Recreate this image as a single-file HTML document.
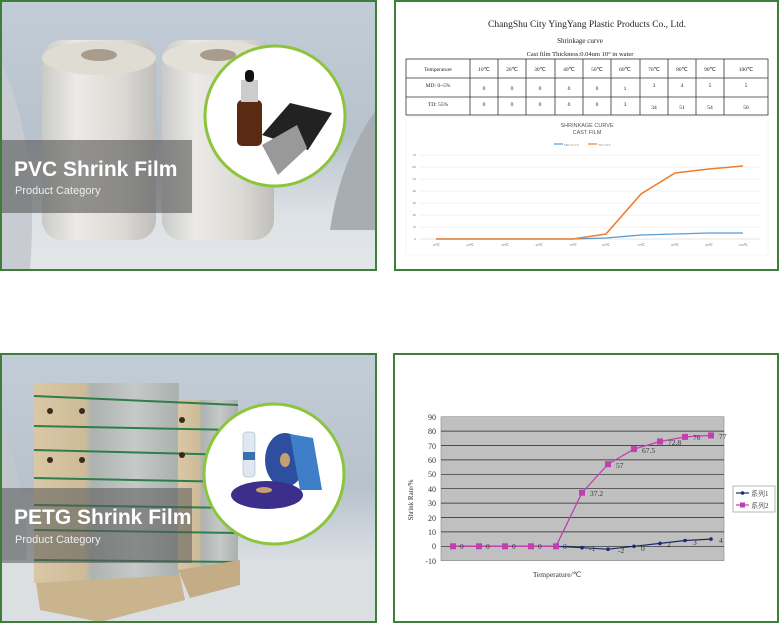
<!DOCTYPE html>
<html><head><meta charset="utf-8"><style>
html,body{margin:0;padding:0;background:#fff;width:780px;height:625px;overflow:hidden}
svg{display:block}
</style></head><body>
<svg width="780" height="625" viewBox="0 0 780 625" xmlns="http://www.w3.org/2000/svg" font-family="Liberation Serif, serif">
<defs>
<linearGradient id="sky" x1="0" y1="0" x2="0" y2="1">
<stop offset="0" stop-color="#c3cdd8"/><stop offset="0.5" stop-color="#b8c2cc"/><stop offset="0.8" stop-color="#dde2e6"/><stop offset="1" stop-color="#e3e6e9"/></linearGradient>
<linearGradient id="roll" x1="0" y1="0" x2="1" y2="0">
<stop offset="0" stop-color="#c9cac8"/><stop offset="0.3" stop-color="#eceae6"/><stop offset="0.7" stop-color="#dcdad5"/><stop offset="1" stop-color="#bfbebb"/></linearGradient>
<linearGradient id="box" x1="0" y1="0" x2="1" y2="0">
<stop offset="0" stop-color="#d9c7a6"/><stop offset="0.35" stop-color="#cdbb98"/><stop offset="0.4" stop-color="#aeb3b2"/><stop offset="0.7" stop-color="#c5c9c8"/><stop offset="1" stop-color="#a9b0ae"/></linearGradient>
</defs>

<!-- Top-left panel -->
<rect x="1" y="1" width="375" height="269" fill="url(#sky)"/>
<path d="M1 60 Q40 150 30 270 L1 270Z" fill="#c8ccd2"/>
<path d="M376 110 Q340 160 330 230 L376 230Z" fill="#a8adb2"/>
<rect x="42" y="40" width="114" height="200" rx="20" fill="url(#roll)"/>
<ellipse cx="99" cy="58" rx="57" ry="17" fill="#dfdcd3"/>
<ellipse cx="99" cy="55" rx="18" ry="6" fill="#a89c8c"/>
<rect x="162" y="40" width="112" height="200" rx="20" fill="url(#roll)"/>
<ellipse cx="218" cy="58" rx="56" ry="17" fill="#e3e0d8"/>
<ellipse cx="218" cy="55" rx="18" ry="6" fill="#a89c8c"/>
<rect x="2" y="140" width="190" height="73" fill="#555" fill-opacity="0.6"/>
<text x="14" y="176" font-family="Liberation Sans, sans-serif" font-weight="bold" font-size="21" fill="#fff">PVC Shrink Film</text>
<text x="15" y="194" font-family="Liberation Sans, sans-serif" font-size="11" fill="#eee">Product Category</text>
<circle cx="275" cy="116" r="70" fill="#fff" stroke="#8cc43c" stroke-width="3"/>
<rect x="237" y="100" width="25" height="46" rx="5" fill="#5a2a12"/>
<rect x="241" y="80" width="17" height="22" fill="#ccc"/>
<rect x="245" y="70" width="9" height="12" rx="4" fill="#111"/>
<polygon points="262,135 290,103 332,113 308,150" fill="#222"/>
<polygon points="262,145 297,125 307,148 278,175" fill="#999"/>
<rect x="1" y="1" width="375" height="269" fill="none" stroke="#3f7d3a" stroke-width="2"/>

<!-- Bottom-left panel -->
<rect x="1" y="354" width="375" height="268" fill="url(#sky)"/>
<path d="M1 420 Q40 520 20 622 L1 622Z" fill="#c0c6cc"/>
<rect x="1" y="560" width="375" height="62" fill="#dcdfe2"/>
<rect x="34" y="383" width="145" height="200" fill="url(#box)"/>
<rect x="178" y="400" width="60" height="170" fill="url(#box)"/>
<g stroke="#2f7d4c" stroke-width="2"><line x1="34" y1="396" x2="238" y2="405"/><line x1="34" y1="426" x2="238" y2="430"/><line x1="34" y1="450" x2="238" y2="455"/><line x1="34" y1="478" x2="238" y2="482"/><line x1="34" y1="505" x2="238" y2="508"/><line x1="34" y1="530" x2="238" y2="533"/><line x1="34" y1="560" x2="238" y2="562"/></g>
<polygon points="36,583 180,575 185,600 100,622 40,610" fill="#c9b48e"/>
<polygon points="178,570 240,560 240,585 190,598" fill="#c4ad86"/>
<g fill="#3a2a1a"><circle cx="50" cy="411" r="3"/><circle cx="82" cy="411" r="3"/><circle cx="50" cy="460" r="3"/><circle cx="82" cy="460" r="3"/><circle cx="182" cy="420" r="3"/><circle cx="182" cy="455" r="3"/></g>
<rect x="2" y="488" width="190" height="75" fill="#555" fill-opacity="0.55"/>
<text x="14" y="524" font-family="Liberation Sans, sans-serif" font-weight="bold" font-size="21" fill="#fff">PETG Shrink Film</text>
<text x="15" y="543" font-family="Liberation Sans, sans-serif" font-size="11" fill="#eee">Product Category</text>
<circle cx="274" cy="474" r="70" fill="#fff" stroke="#8cc43c" stroke-width="3"/>
<rect x="243" y="432" width="12" height="45" rx="3" fill="#dfe8f0" stroke="#9ab" stroke-width="0.5"/>
<rect x="243" y="452" width="12" height="8" fill="#3a6fb0"/>
<ellipse cx="285" cy="460" rx="20" ry="27" fill="#2e4fa0"/>
<ellipse cx="285" cy="460" rx="5" ry="7" fill="#c8a070"/>
<polygon points="290,434 313,438 322,490 300,490" fill="#3f7ec8"/>
<ellipse cx="267" cy="495" rx="36" ry="14" fill="#3c2f8c"/>
<ellipse cx="264" cy="490" rx="8" ry="3" fill="#c8a070"/>
<rect x="1" y="354" width="375" height="268" fill="none" stroke="#3f7d3a" stroke-width="2"/>

<!-- Top-right panel -->
<rect x="395" y="1" width="383" height="269" fill="#fff" stroke="#3f7d3a" stroke-width="2"/>
<text x="587" y="27" font-size="9.5" text-anchor="middle" fill="#222">ChangShu City YingYang Plastic Products Co., Ltd.</text>
<text x="580" y="43" font-size="7" text-anchor="middle" fill="#222">Shrinkage curve</text>
<text x="580" y="56" font-size="6.5" text-anchor="middle" fill="#222">Cast film    Thickness:0.04um    10°  in water</text>
<g stroke="#333" stroke-width="0.8" fill="none">
<rect x="406" y="59" width="362" height="56"/>
<line x1="406" y1="78" x2="768" y2="78"/><line x1="406" y1="97" x2="768" y2="97"/>
<line x1="470" y1="59" x2="470" y2="115"/><line x1="498" y1="59" x2="498" y2="115"/><line x1="526" y1="59" x2="526" y2="115"/><line x1="555" y1="59" x2="555" y2="115"/><line x1="583" y1="59" x2="583" y2="115"/><line x1="611" y1="59" x2="611" y2="115"/><line x1="640" y1="59" x2="640" y2="115"/><line x1="668" y1="59" x2="668" y2="115"/><line x1="696" y1="59" x2="696" y2="115"/><line x1="724" y1="59" x2="724" y2="115"/>
</g>
<g font-size="5.5" fill="#222" text-anchor="middle">
<text x="438" y="71">Temperature</text><text x="484" y="71">10℃</text><text x="512" y="71">20℃</text><text x="540" y="71">30℃</text><text x="569" y="71">40℃</text><text x="597" y="71">50℃</text><text x="625" y="71">60℃</text><text x="654" y="71">70℃</text><text x="682" y="71">80℃</text><text x="710" y="71">90℃</text><text x="746" y="71">100℃</text>
<text x="438" y="87">MD:  0~5%</text><text x="484" y="90">0</text><text x="512" y="90">0</text><text x="540" y="90">0</text><text x="569" y="90">0</text><text x="597" y="90">0</text><text x="625" y="90">1</text><text x="654" y="87">3</text><text x="682" y="87">4</text><text x="710" y="87">5</text><text x="746" y="87">5</text>
<text x="438" y="106">TD:  55%</text><text x="484" y="106">0</text><text x="512" y="106">0</text><text x="540" y="106">0</text><text x="569" y="106">0</text><text x="597" y="106">0</text><text x="625" y="106">3</text><text x="654" y="109">34</text><text x="682" y="109">51</text><text x="710" y="109">54</text><text x="746" y="109">56</text>
</g>
<rect x="406" y="117" width="362" height="138" fill="#fff" stroke="#eee" stroke-width="0.5"/>
<text x="587" y="127" font-family="Liberation Sans, sans-serif" font-size="5.5" text-anchor="middle" fill="#555">SHRINKAGE CURVE</text>
<text x="587" y="134" font-family="Liberation Sans, sans-serif" font-size="5.5" text-anchor="middle" fill="#555">CAST FILM</text>
<line x1="554" y1="144" x2="563" y2="144" stroke="#5b9bd5" stroke-width="1.2"/><text x="564" y="146" font-size="3.5" fill="#888">MD: 0-5%</text>
<line x1="588" y1="144" x2="597" y2="144" stroke="#ed7d31" stroke-width="1.2"/><text x="598" y="146" font-size="3.5" fill="#888">TD: 55%</text>
<g stroke="#e6e6e6" stroke-width="0.5"><line x1="420" y1="155" x2="760" y2="155"/><line x1="420" y1="167" x2="760" y2="167"/><line x1="420" y1="179" x2="760" y2="179"/><line x1="420" y1="191" x2="760" y2="191"/><line x1="420" y1="203" x2="760" y2="203"/><line x1="420" y1="215" x2="760" y2="215"/><line x1="420" y1="227" x2="760" y2="227"/></g>
<line x1="420" y1="239" x2="760" y2="239" stroke="#ccc" stroke-width="0.5"/>
<g font-size="3.5" fill="#777" text-anchor="end"><text x="416" y="156">70</text><text x="416" y="168">60</text><text x="416" y="180">50</text><text x="416" y="192">40</text><text x="416" y="204">30</text><text x="416" y="216">20</text><text x="416" y="228">10</text><text x="416" y="240">0</text></g>
<g font-size="3.5" fill="#777" text-anchor="middle"><text x="436" y="246">10℃</text><text x="470" y="246">20℃</text><text x="505" y="246">30℃</text><text x="539" y="246">40℃</text><text x="573" y="246">50℃</text><text x="606" y="246">60℃</text><text x="641" y="246">70℃</text><text x="675" y="246">80℃</text><text x="709" y="246">90℃</text><text x="743" y="246">100℃</text></g>
<polyline points="436,239 470,239 505,239 539,239 573,239 606,238 641,235 675,234 709,233 743,233" fill="none" stroke="#5b9bd5" stroke-width="1.3"/>
<polyline points="436,239 470,239 505,239 539,239 573,239 606,234 641,194 675,173 709,169 743,166" fill="none" stroke="#ed7d31" stroke-width="1.6"/>

<!-- Bottom-right panel -->
<rect x="394" y="354" width="384" height="268" fill="#fff" stroke="#3f7d3a" stroke-width="2"/>
<rect x="441" y="416.7" width="283" height="144" fill="#c0c0c0" stroke="#888" stroke-width="0.6"/>
<g stroke="#222" stroke-width="0.7"><line x1="441" y1="431.1" x2="724" y2="431.1"/><line x1="441" y1="445.5" x2="724" y2="445.5"/><line x1="441" y1="459.9" x2="724" y2="459.9"/><line x1="441" y1="474.3" x2="724" y2="474.3"/><line x1="441" y1="488.7" x2="724" y2="488.7"/><line x1="441" y1="503.1" x2="724" y2="503.1"/><line x1="441" y1="517.5" x2="724" y2="517.5"/><line x1="441" y1="531.9" x2="724" y2="531.9"/><line x1="441" y1="546.3" x2="724" y2="546.3"/></g>
<g font-size="8" fill="#333" text-anchor="end"><text x="436" y="420">90</text><text x="436" y="434">80</text><text x="436" y="449">70</text><text x="436" y="463">60</text><text x="436" y="477">50</text><text x="436" y="492">40</text><text x="436" y="506">30</text><text x="436" y="521">20</text><text x="436" y="535">10</text><text x="436" y="549">0</text><text x="436" y="564">-10</text></g>
<text x="413" y="500" font-size="7" fill="#333" text-anchor="middle" transform="rotate(-90 413 500)">Shrink Rate/%</text>
<text x="557" y="577" font-size="7.5" fill="#333" text-anchor="middle">Temperature/℃</text>
<polyline points="453,546.3 479,546.3 505,546.3 531,546.3 556,546.3 582,547.7 608,549.2 634,546.3 660,543.4 685,540.5 711,539.1" fill="none" stroke="#1f2a6e" stroke-width="1.2"/>
<g fill="#1f2a6e"><circle cx="582" cy="547.7" r="1.8"/><circle cx="608" cy="549.2" r="1.8"/><circle cx="634" cy="546.3" r="1.8"/><circle cx="660" cy="543.4" r="1.8"/><circle cx="685" cy="540.5" r="1.8"/><circle cx="711" cy="539.1" r="1.8"/></g>
<polyline points="453,546.3 479,546.3 505,546.3 531,546.3 556,546.3 582,492.7 608,464.2 634,449.1 660,441.5 685,436.9 711,435.4" fill="none" stroke="#c040b0" stroke-width="1.3"/>
<g fill="#c040b0"><rect x="450" y="543.3" width="6" height="6"/><rect x="476" y="543.3" width="6" height="6"/><rect x="502" y="543.3" width="6" height="6"/><rect x="528" y="543.3" width="6" height="6"/><rect x="553" y="543.3" width="6" height="6"/><rect x="579" y="489.7" width="6" height="6"/><rect x="605" y="461.2" width="6" height="6"/><rect x="631" y="446.1" width="6" height="6"/><rect x="657" y="438.5" width="6" height="6"/><rect x="682" y="433.9" width="6" height="6"/><rect x="708" y="432.4" width="6" height="6"/></g>
<g font-size="7.5" fill="#333"><text x="460" y="549">0</text><text x="486" y="549">0</text><text x="512" y="549">0</text><text x="538" y="549">0</text><text x="563" y="549">0</text><text x="590" y="496">37.2</text><text x="616" y="468">57</text><text x="642" y="453">67.5</text><text x="668" y="445">72.8</text><text x="693" y="440">76</text><text x="719" y="439">77</text><text x="589" y="551">-1</text><text x="618" y="553">-2</text><text x="641" y="551">0</text><text x="667" y="547">2</text><text x="693" y="545">3</text><text x="719" y="543">4</text></g>
<rect x="733" y="486" width="42" height="26" fill="#fff" stroke="#888" stroke-width="0.6"/>
<line x1="736" y1="493" x2="749" y2="493" stroke="#1f2a6e" stroke-width="1.2"/><circle cx="742.5" cy="493" r="1.8" fill="#1f2a6e"/>
<line x1="736" y1="505" x2="749" y2="505" stroke="#c040b0" stroke-width="1.2"/><rect x="740" y="502.5" width="5" height="5" fill="#c040b0"/>
<g font-family="Liberation Serif, 'Noto Serif CJK SC', serif" font-size="7" fill="#333"><text x="751" y="496">系列1</text><text x="751" y="508">系列2</text></g>
</svg>
</body></html>
